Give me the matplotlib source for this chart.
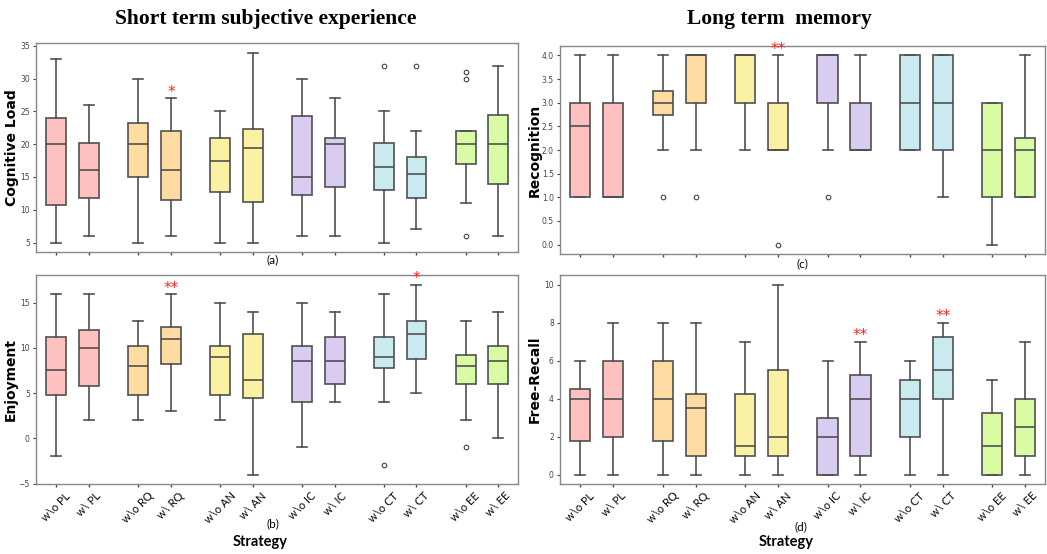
import matplotlib
matplotlib.use("Agg")
from matplotlib import pyplot as plt

W, H = 1047, 554

# x 轴标签 / 颜色
labels = ["w\\o PL", "w\\ PL", "w\\o RQ", "w\\ RQ", "w\\o AN", "w\\ AN",
          "w\\o IC", "w\\ IC", "w\\o CT", "w\\ CT", "w\\o EE", "w\\ EE"]
pair_colors = ["#ffc0c0", "#fedba0", "#faf2a2", "#d8cdf0", "#c9ebf0", "#d9fba4"]

# (a) Cognitive Load
cl_lo = [5, 6, 5, 6, 5, 5, 6, 6, 5, 7, 11, 6]
cl_q1 = [10.75, 11.75, 15, 11.5, 12.75, 11.25, 12.25, 13.5, 13, 11.75, 17, 14]
cl_med = [20, 16, 20, 16, 17.5, 19.5, 15, 20, 16.5, 15.5, 20, 20]
cl_q3 = [24, 20.2, 23.25, 22, 21, 22.25, 24.25, 21, 20.25, 18, 22, 24.5]
cl_hi = [33, 26, 30, 27, 25, 34, 30, 27, 25, 22, 22, 32]
cl_fliers = [[], [], [], [], [], [], [], [], [32], [32], [6, 30, 31], []]
cl_stars = {3: "*"}

# (b) Enjoyment
en_lo = [-2, 2, 2, 3, 2, -4, -1, 4, 4, 5, 2, 0]
en_q1 = [4.75, 5.75, 4.75, 8.25, 4.75, 4.5, 4, 6, 7.75, 8.75, 6, 6]
en_med = [7.5, 10, 8, 11, 9, 6.5, 8.5, 8.5, 9, 11.5, 8, 8.5]
en_q3 = [11.25, 12, 10.25, 12.25, 10.25, 11.5, 10.25, 11.25, 11.25, 13, 9.25, 10.25]
en_hi = [16, 16, 13, 16, 15, 14, 15, 14, 16, 17, 13, 14]
en_fliers = [[], [], [], [], [], [], [], [], [-3], [], [-1], []]
en_stars = {3: "**", 9: "*"}

# (c) Recognition
rc_lo = [1, 1, 2, 2, 2, 2, 2, 2, 2, 1, 0, 1]
rc_q1 = [1, 1, 2.75, 3, 3, 2, 3, 2, 2, 2, 1, 1]
rc_med = [2.5, 1, 3, 4, 4, 2, 4, 2, 3, 3, 2, 2]
rc_q3 = [3, 3, 3.25, 4, 4, 3, 4, 3, 4, 4, 3, 2.25]
rc_hi = [4, 4, 4, 4, 4, 4, 4, 4, 4, 4, 3, 4]
rc_fliers = [[], [], [1], [1], [], [0], [1], [], [], [], [], []]
rc_stars = {5: "**"}

# (d) Free-Recall
fr_lo = [0, 0, 0, 0, 0, 0, 0, 0, 0, 0, 0, 0]
fr_q1 = [1.75, 2, 1.75, 1, 1, 1, 0, 1, 2, 4, 0, 1]
fr_med = [4, 4, 4, 3.5, 1.5, 2, 2, 4, 4, 5.5, 1.5, 2.5]
fr_q3 = [4.5, 6, 6, 4.25, 4.25, 5.5, 3, 5.25, 5, 7.25, 3.25, 4]
fr_hi = [6, 8, 8, 8, 7, 10, 6, 7, 6, 8, 5, 7]
fr_fliers = [[] for _ in range(12)]
fr_stars = {7: "**", 9: "**"}

pos = [2.5 * (i // 2) + i % 2 for i in range(12)]
box_colors = [pair_colors[i // 2] for i in range(12)]
line_c = "#505050"

fig = plt.figure(figsize=(W / 100, H / 100), dpi=100)


def add_ax(l, t, r, b):
    return fig.add_axes([l / W, 1 - b / H, (r - l) / W, (b - t) / H])


def draw(ax, lo, q1, med, q3, hi, fliers, stars, ylabel, show_labels, pad):
    stats = [dict(whislo=lo[i], q1=q1[i], med=med[i], q3=q3[i], whishi=hi[i],
                  fliers=fliers[i]) for i in range(12)]
    bp = ax.bxp(stats, positions=pos, widths=0.61, patch_artist=True,
                boxprops=dict(edgecolor=line_c, linewidth=1.2),
                medianprops=dict(color=line_c, linewidth=1.2),
                whiskerprops=dict(color=line_c, linewidth=1.2),
                capprops=dict(color=line_c, linewidth=1.2),
                flierprops=dict(marker="o", markersize=3.3, markerfacecolor="none",
                                markeredgecolor="#444444", markeredgewidth=0.8))
    for patch, c in zip(bp["boxes"], box_colors):
        patch.set_facecolor(c)
    ax.set_xlim(-0.62, 14.1)
    ax.margins(y=0.05)
    lo_y, hi_y = ax.get_ylim()
    for i, s in stars.items():
        ax.text(pos[i], hi[i] + 0.005 * (hi_y - lo_y), s, color="#ff2020", ha="center",
                va="baseline", fontsize=11)
    ax.set_xticks(pos)
    if show_labels:
        ax.set_xticklabels(labels, rotation=45, fontsize=8, family="Lato")
    else:
        ax.set_xticklabels([])
    ax.tick_params(axis="y", labelsize=5.5, labelcolor="#444444", length=2.5, width=0.8,
                   color="#444444", pad=2)
    ax.tick_params(axis="x", length=2.5, width=1, color="#444444", pad=2)
    for sp in ax.spines.values():
        sp.set_color("#888888")
        sp.set_linewidth(1)
    ax.set_ylabel(ylabel, fontsize=10, fontweight="bold", labelpad=pad)


ax_a = add_ax(36, 43, 518, 252)
ax_b = add_ax(36, 275, 518, 484)
ax_c = add_ax(560, 46, 1045, 254)
ax_d = add_ax(560, 275, 1045, 484)

draw(ax_a, cl_lo, cl_q1, cl_med, cl_q3, cl_hi, cl_fliers, cl_stars, "Cognitive Load", False, 0.5)
draw(ax_b, en_lo, en_q1, en_med, en_q3, en_hi, en_fliers, en_stars, "Enjoyment", True, 0.5)
draw(ax_c, rc_lo, rc_q1, rc_med, rc_q3, rc_hi, rc_fliers, rc_stars, "Recognition", False, 0)
draw(ax_d, fr_lo, fr_q1, fr_med, fr_q3, fr_hi, fr_fliers, fr_stars, "Free-Recall", True, 2)


def ftext(x, y, s, **kw):
    fig.text(x / W, 1 - y / H, s, ha="center", va="center", **kw)


ftext(266, 19, "Short term subjective experience", fontsize=15.5, fontweight="bold",
      family="Liberation Serif")
ftext(779, 19, "Long term  memory", fontsize=15.5, fontweight="bold",
      family="Liberation Serif")
ftext(273, 260, "(a)", fontsize=8.5, family="Lato")
ftext(273, 524, "(b)", fontsize=8.5, family="Lato")
ftext(802, 264, "(c)", fontsize=8.5, family="Lato")
ftext(801, 527, "(d)", fontsize=8.5, family="Lato")
ftext(260, 542, "Strategy", fontsize=10.5, fontweight="bold", family="Lato")
ftext(786, 542, "Strategy", fontsize=10.5, fontweight="bold", family="Lato")

fig.savefig("out.png", dpi=100)
